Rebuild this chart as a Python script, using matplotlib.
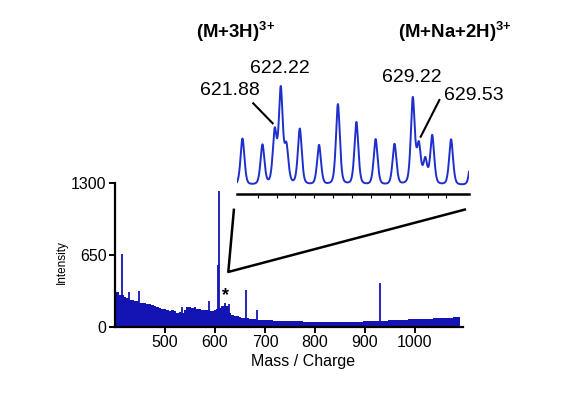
"""Mass spectrum with zoomed inset of the (M+3H)3+ / (M+Na+2H)3+ region."""
import numpy as np
import matplotlib
matplotlib.use("Agg")
import matplotlib.pyplot as plt

plt.rcParams["font.family"] = ["Liberation Sans", "DejaVu Sans"]
plt.rcParams["mathtext.fontset"] = "custom"
plt.rcParams["mathtext.rm"] = "Liberation Sans"
plt.rcParams["mathtext.bf"] = "Liberation Sans:bold"

# full spectrum: background envelope (m/z, intensity)
env_mz = [400, 405, 410, 415, 420, 425, 430, 435, 440, 445, 450, 455, 460, 465,
          470, 475, 480, 485, 490, 495, 500, 505, 510, 515, 520, 525, 530, 535,
          540, 545, 550, 555, 560, 565, 570, 575, 580, 585, 590, 595, 600, 605,
          610, 615, 620, 625, 630, 635, 640, 645, 650, 655, 660, 665, 670, 675,
          680, 685, 690, 700, 710, 720, 730, 740, 750, 760, 770, 780, 790, 800,
          810, 820, 830, 840, 850, 860, 870, 880, 890, 900, 910, 920, 930, 940,
          950, 960, 970, 980, 990, 1000, 1010, 1020, 1030, 1040, 1050, 1060,
          1070, 1080, 1090]
env_int = [300, 320, 290, 285, 270, 262, 240, 245, 235, 232, 220, 215, 218, 205,
           210, 195, 190, 185, 172, 165, 160, 150, 145, 150, 140, 130, 135, 128,
           150, 180, 185, 175, 180, 165, 160, 155, 150, 155, 145, 140, 150, 160,
           175, 190, 200, 190, 130, 110, 100, 95, 90, 85, 85, 80, 75, 70,
           70, 65, 65, 60, 60, 58, 55, 55, 52, 50, 50, 48, 48, 47,
           47, 46, 45, 45, 45, 45, 46, 47, 48, 50, 52, 55, 55, 58,
           60, 62, 64, 66, 68, 70, 72, 74, 76, 78, 80, 82,
           84, 86, 88]

# isolated sharp peaks
spike_mz = [414.5, 427, 447, 533, 587, 606.5, 608.5, 620.5, 627, 662, 683, 929]
spike_int = [660, 316, 325, 178, 235, 557, 1228, 215, 205, 330, 157, 400]

# inset: peak centres and heights (arbitrary units) in 619.9-632.2
inset_mz = [620.19, 621.25, 621.90, 622.22, 622.52, 623.23, 624.25, 625.25,
            626.23, 627.25, 628.25, 629.22, 629.54, 629.88, 630.25, 631.25, 632.35]
inset_int = [47, 40, 52, 94, 36, 56, 40, 81,
             63, 46, 41, 86, 38, 24, 49, 46, 37]
inset_base = 8

BLUE = "#1414b4"
LINE_BLUE = "#1f2fcc"

fig = plt.figure(figsize=(5.66, 3.93), dpi=100)
W, H = 566, 393


def px_axes(left, top, right, bottom):
    return fig.add_axes([left / W, 1 - bottom / H, (right - left) / W, (bottom - top) / H])


ax = px_axes(115, 183, 463, 327)
ax.fill_between(env_mz, 0, env_int, step="mid", color=BLUE, lw=0)
ax.vlines(spike_mz, 0, spike_int, color=BLUE, lw=1.3)
ax.set_xlim(400, 1096)
ax.set_ylim(0, 1300)
ax.set_xticks([500, 600, 700, 800, 900, 1000])
ax.set_yticks([0, 650, 1300])
for s in ("top", "right"):
    ax.spines[s].set_visible(False)
for s in ("left", "bottom"):
    ax.spines[s].set_linewidth(1.6)
ax.tick_params(width=1.4, length=4, labelsize=11.5, pad=2)
ax.set_xlabel("Mass / Charge", fontsize=11.5)
ax.xaxis.set_label_coords(0.54, -0.185)
ax.set_ylabel("Intensity", fontsize=8.5)
ax.yaxis.set_label_coords(-0.135, 0.45)
ax.text(622, 205, "*", fontsize=13, fontweight="bold", ha="center", va="bottom")

# zoom guide lines
ax.plot([638, 626.6, 1102], [1069, 497, 1063], color="black", lw=1.8,
        clip_on=False, solid_capstyle="butt")

# inset
ins = px_axes(237, 84, 469, 194)
x = np.linspace(619.9, 632.2, 1500)
y = np.full_like(x, inset_base, dtype=float)
for c, h in zip(inset_mz, inset_int):
    g = np.exp(-0.5 * ((x - c) / 0.11) ** 2)
    lz = 1 / (1 + ((x - c) / 0.11) ** 2)
    y += h * (0.55 * g + 0.45 * lz)
ins.plot(x, y, color=LINE_BLUE, lw=1.4)
ins.set_xlim(619.9, 632.2)
ins.set_ylim(0, 110)
ins.patch.set_visible(False)
for s in ("top", "right", "left"):
    ins.spines[s].set_visible(False)
ins.spines["bottom"].set_linewidth(1.8)
ins.set_yticks([])
ins.set_xticks(np.arange(621, 632))
ins.tick_params(axis="x", length=3, width=0.8, labelbottom=False)

lab = dict(fontsize=14, ha="center", va="center", clip_on=False)
ins.text(619.53, 104, "621.88", **lab)
ins.text(622.18, 126, "622.22", **lab)
ins.text(629.16, 117, "629.22", **lab)
ins.text(632.43, 99, "629.53", **lab)
ins.plot([620.76, 621.79], [90.7, 70.7], color="black", lw=1.5, clip_on=False)
ins.plot([630.63, 629.64], [94, 57.3], color="black", lw=1.5, clip_on=False)

fig.text(196 / W, 1 - 31.7 / H, r"(M+3H)$^{\mathbf{3{+}}}$", fontsize=13.4,
         fontweight="bold", ha="left", va="center")
fig.text(398 / W, 1 - 31.7 / H, r"(M+Na+2H)$^{\mathbf{3{+}}}$", fontsize=13.4,
         fontweight="bold", ha="left", va="center")

fig.savefig("out.png", dpi=100)
